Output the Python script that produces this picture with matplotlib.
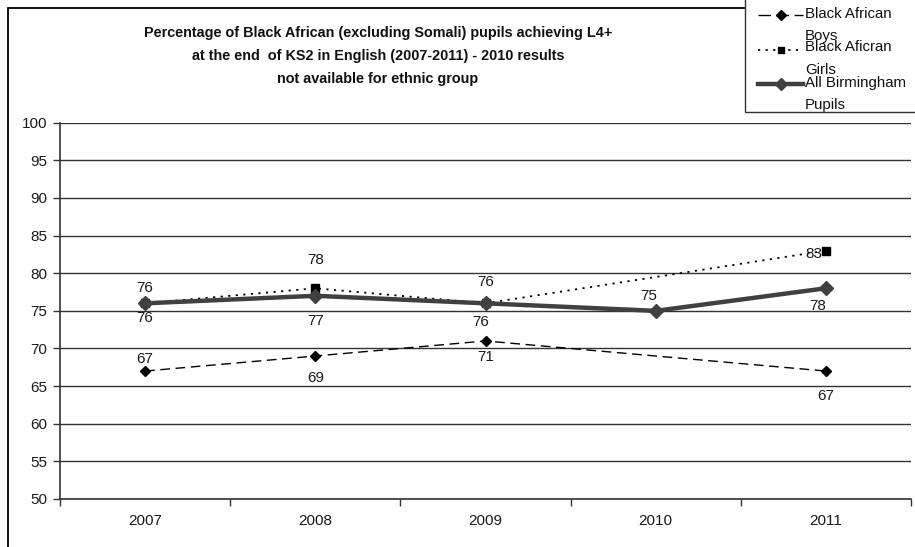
import numpy as np
import matplotlib
matplotlib.use("Agg")
import matplotlib.pyplot as plt
from matplotlib.lines import Line2D
from matplotlib.patches import Rectangle

plt.rcParams['font.family'] = ['Liberation Sans', 'DejaVu Sans']

# ---- data ----
years = ["2007", "2008", "2009", "2010", "2011"]
boys = [67, 69, 71, np.nan, 67]
girls = [76, 78, 76, np.nan, 83]
all_bham = [76, 77, 76, 75, 78]
series_names = ["Black African\nBoys", "Black Aficran\nGirls", "All Birmingham\nPupils"]
title = ("Percentage of Black African (excluding Somali) pupils achieving L4+\n"
         "at the end  of KS2 in English (2007-2011) - 2010 results\n"
         "not available for ethnic group")

W, H = 915, 547
fig = plt.figure(figsize=(W / 100, H / 100), dpi=100)


def fx(px):
    return px / W


def fy(py):
    return 1 - py / H


ax = fig.add_axes([fx(60), fy(499), fx(911) - fx(60), fy(122.7) - fy(499)])

x = np.arange(len(years))
GRID = "#333333"
BHAM = "#404040"
TXT = "#1a1a1a"


def valid(vals):
    v = np.asarray(vals, dtype=float)
    m = ~np.isnan(v)
    return x[m], v[m]


bx, by = valid(boys)
gx, gy = valid(girls)
ax_, ay = valid(all_bham)

boys_style = dict(color="black", lw=1.0, ls=(0, (7, 4)), marker="D", ms=5.5,
                  mfc="black", mec="black")
girls_style = dict(color="black", lw=1.3, ls=(0, (1.2, 3)), marker="s", ms=5.5,
                   mfc="black", mec="black")
bham_style = dict(color=BHAM, lw=3.2, ls="-", marker="D", ms=7,
                  mfc=BHAM, mec=BHAM)

ax.plot(bx, by, zorder=3, **boys_style)
ax.plot(gx, gy, zorder=3, **girls_style)
ax.plot(ax_, ay, zorder=4, **bham_style)

# value labels (offsets in pixels from each point)
boys_off = {0: (0, 12), 1: (0, -22), 2: (0, -16), 4: (0, -25)}
girls_off = {0: (0, 15), 1: (0, 28), 2: (0, 21), 4: (-12, -3)}
bham_off = {0: (0, -15), 1: (0, -25), 2: (-5, -19), 3: (-7, 15), 4: (-8, -18)}
for xs, ys, offs in [(bx, by, boys_off), (gx, gy, girls_off), (ax_, ay, bham_off)]:
    for xi, yi in zip(xs, ys):
        dx, dy = offs[int(xi)]
        ax.annotate(f"{yi:.0f}", (xi, yi), xytext=(dx, dy), textcoords="offset pixels",
                    ha="center", va="center", fontsize=11, color=TXT, zorder=5)

ax.set_xlim(-0.5, len(years) - 0.5)
ax.set_ylim(50, 100)
ax.set_yticks(np.arange(50, 101, 5))
ax.set_xticks(x)
ax.set_xticklabels(years)
ax.set_xticks(np.arange(-0.5, len(years), 1.0), minor=True)
ax.tick_params(axis="x", which="major", length=0, pad=11, labelsize=11, colors=TXT)
ax.tick_params(axis="x", which="minor", length=5, width=1, color=GRID, direction="out")
ax.tick_params(axis="y", length=5, width=1, color=GRID, direction="out", pad=4,
               labelsize=11, labelcolor=TXT)
ax.yaxis.grid(True, color=GRID, lw=1.0)
ax.set_axisbelow(True)
for s in ["top", "right"]:
    ax.spines[s].set_visible(False)
for s in ["left", "bottom"]:
    ax.spines[s].set_color(GRID)
    ax.spines[s].set_linewidth(1.2)

# outer chart frame
fig.patches.append(Rectangle((fx(8), fy(551)), fx(920) - fx(8), fy(8) - fy(551),
                             transform=fig.transFigure, fill=False, ec="black", lw=1.3,
                             zorder=0))

# title
fig.text(fx(378), fy(56), title, ha="center", va="center", fontsize=10.4,
         fontweight="bold", linespacing=1.85, color="#111111")

# legend box
fig.patches.append(Rectangle((fx(745), fy(112)), fx(925) - fx(745), fy(-5) - fy(112),
                             transform=fig.transFigure, fill=True, fc="white", ec="#333333",
                             lw=1.0, zorder=6))
leg_rows = [(15, 25, boys_style, (0, (9, 4))),
            (50, 58.5, girls_style, girls_style["ls"]),
            (84, 94, bham_style, "-")]
for (ypx, ytxt, st, handle_ls), name in zip(leg_rows, series_names):
    fig.add_artist(Line2D([fx(758), fx(803)], [fy(ypx), fy(ypx)], transform=fig.transFigure,
                          color=st["color"], lw=st["lw"], ls=handle_ls, zorder=7))
    fig.add_artist(Line2D([fx(780.5)], [fy(ypx)], transform=fig.transFigure, ls="none",
                          marker=st["marker"], ms=st["ms"] * 0.9, mfc=st["mfc"],
                          mec=st["mec"], zorder=8))
    fig.text(fx(805), fy(ytxt), name, ha="left", va="center", fontsize=10.8,
             linespacing=1.75, color="#111111", zorder=8)

fig.savefig("out.png", dpi=100)
